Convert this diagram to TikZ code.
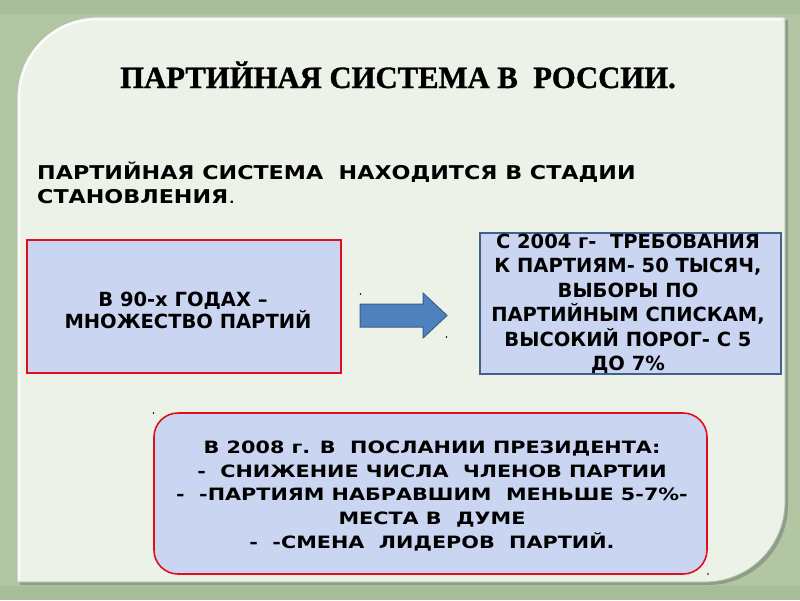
\documentclass[tikz,border=0pt]{standalone}
\usepackage{fontspec}
\newfontfamily\dvs{DejaVu Sans}
\newfontfamily\dvsw{DejaVu Sans}[FakeStretch=1.22]
\newfontfamily\dvsx{DejaVu Sans}[FakeStretch=1.17]
\newfontfamily\ttl{Liberation Serif}[FakeStretch=0.99, FakeBold=1.2]
\definecolor{bggreen}{HTML}{B2C6A3}
\definecolor{bgdark}{HTML}{9DB38E}
\definecolor{panel}{HTML}{EDF2E8}
\definecolor{panelrim}{HTML}{8E9E86}
\definecolor{boxfill}{HTML}{CAD6F1}
\definecolor{boxred}{HTML}{E0101A}
\definecolor{boxblue}{HTML}{40618A}
\definecolor{arrowfill}{HTML}{4F81BD}
\definecolor{arrowedge}{HTML}{385D8A}
\begin{document}
\begin{tikzpicture}[x=1pt,y=-1pt,
  boxtxt/.style={font=\dvs\bfseries\fontsize{19.5}{24}\selectfont, anchor=base, inner sep=0pt},
  lowtxt/.style={font=\dvsw\bfseries\fontsize{17}{24}\selectfont, anchor=base, inner sep=0pt},
  subtxt/.style={font=\dvsx\bfseries\fontsize{19}{24}\selectfont, anchor=base west, inner sep=0pt},
  dot/.style={fill=black, circle, inner sep=0pt, minimum size=1.6pt}]
\useasboundingbox (0,0) rectangle (800,600);
% background
\fill[bggreen] (0,0) rectangle (800,600);
\fill[bgdark, opacity=0.5] (0,0) rectangle (800,14);
\fill[bgdark, opacity=0.5] (0,586) rectangle (800,600);
% panel shadow
\fill[panelrim] (20,585) -- (20,100) arc[start angle=180,end angle=90,radius=80pt] -- (788,20) -- (788,505) arc[start angle=0,end angle=-90,radius=80pt] -- cycle;
% panel
\fill[panel, draw=panelrim!70, line width=0.8pt] (17,582) -- (17,97) arc[start angle=180,end angle=90,radius=80pt] -- (785,17) -- (785,502) arc[start angle=0,end angle=-90,radius=80pt] -- cycle;
\draw[white, line width=1.5pt] (19.5,580) -- (19.5,97) arc[start angle=180,end angle=90,radius=77.5pt] -- (782,19.5);
% title
\node[font=\ttl\bfseries\fontsize{31}{33}\selectfont, anchor=base, inner sep=0pt] (title) at (398,88) {ПАРТИЙНАЯ СИСТЕМА В\ \ РОССИИ.};
% subtitle
\node[subtxt] (sub1) at (37,179) {ПАРТИЙНАЯ СИСТЕМА\ \ НАХОДИТСЯ В СТАДИИ};
\node[subtxt] (sub2) at (37,203) {СТАНОВЛЕНИЯ{\mdseries .}};
% left box
\node[draw=boxred, line width=1.6pt, fill=boxfill, minimum width=314pt, minimum height=133pt, inner sep=0pt] (b90) at (184,306.5) {};
\node[boxtxt] (b90a) at (183,306) {В 90-х ГОДАХ –};
\node[boxtxt] (b90b) at (188,328) {МНОЖЕСТВО ПАРТИЙ};
% arrow
\filldraw[fill=arrowfill, draw=arrowedge, line width=1pt] (360,304) -- (423,304) -- (423,293) -- (447,315.5) -- (423,338) -- (423,327) -- (360,327) -- cycle;
\node[dot] (d1) at (360.5,294) {};
\node[dot] (d2) at (446.5,337) {};
% right box
\node[draw=boxblue, line width=1.3pt, fill=boxfill, minimum width=301pt, minimum height=141pt, inner sep=0pt] (b04) at (630.5,303.5) {};
\node[boxtxt] (r1) at (628,248) {С 2004 г-\ \ ТРЕБОВАНИЯ};
\node[boxtxt] (r2) at (628,272.5) {К ПАРТИЯМ- 50 ТЫСЯЧ,};
\node[boxtxt] (r3) at (628,297) {ВЫБОРЫ ПО};
\node[boxtxt] (r4) at (628,321.5) {ПАРТИЙНЫМ СПИСКАМ,};
\node[boxtxt] (r5) at (628,346) {ВЫСОКИЙ ПОРОГ- С 5};
\node[boxtxt] (r6) at (628,370) {ДО 7\%};
% bottom box
\node[draw=boxred, line width=1.6pt, fill=boxfill, rounded corners=24pt, minimum width=553pt, minimum height=161pt, inner sep=0pt] (b08) at (430.5,493.5) {};
\node[dot] (d3) at (153.5,413) {};
\node[dot] (d4) at (708,574) {};
\node[lowtxt] (p1) at (432,453) {В 2008 г. В\ \ ПОСЛАНИИ ПРЕЗИДЕНТА:};
\node[lowtxt] (p2) at (432,477) {-\ \ СНИЖЕНИЕ ЧИСЛА\ \ ЧЛЕНОВ ПАРТИИ};
\node[lowtxt] (p3) at (432,500.5) {-\ \ -ПАРТИЯМ НАБРАВШИМ\ \ МЕНЬШЕ 5-7\%-};
\node[lowtxt] (p4) at (432,524) {МЕСТА В\ \ ДУМЕ};
\node[lowtxt] (p5) at (432,548) {-\ \ -СМЕНА\ \ ЛИДЕРОВ\ \ ПАРТИЙ.};
\end{tikzpicture}
\end{document}
